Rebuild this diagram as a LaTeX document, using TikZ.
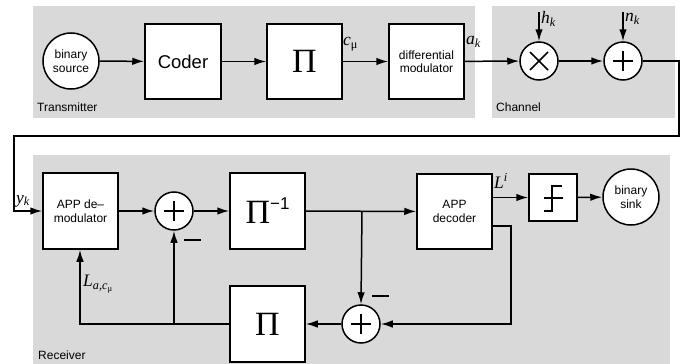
\documentclass[tikz,border=0pt]{standalone}
\usepackage{fontspec}
\setmainfont{Liberation Sans}
\newfontfamily\lsf{Liberation Serif}
\usetikzlibrary{arrows.meta}
\definecolor{panel}{HTML}{D9D9D9}
\newcommand{\vi}[1]{{\lsf\itshape #1}}
\newcommand{\bigP}{{\lsf\fontsize{34}{36}\selectfont Π}}
\tikzset{
  every node/.style={font=\fontsize{12}{13.5}\selectfont},
  blk/.style={draw, line width=1.5pt, fill=white, inner sep=0pt, align=center},
  circ/.style={draw, circle, line width=1.5pt, fill=white, inner sep=0pt, align=center},
  conn/.style={line width=1.5pt, -{Latex[length=12pt,width=7.5pt]}},
  lbl/.style={inner sep=1pt, font=\fontsize{17.5}{18}\selectfont},
  tlbl/.style={inner sep=1pt, font=\fontsize{12}{13}\selectfont}
}
\begin{document}
\begin{tikzpicture}[x=1pt,y=-1pt]
\useasboundingbox (0,0) rectangle (689,364);
% panels
\fill[panel] (33,6) rectangle (475,118);
\fill[panel] (492,6) rectangle (675,118);
\fill[panel] (33,155) rectangle (670,364);
\node[anchor=base west, tlbl] (ttx) at (36,111) {Transmitter};
\node[anchor=base west, tlbl] (tch) at (495,111) {Channel};
\node[anchor=base west, tlbl] (trx) at (37,359) {Receiver};
% transmitter
\node[circ, minimum size=56pt] (src) at (71,61) {binary\\source};
\node[blk, minimum width=76pt, minimum height=75pt, font=\fontsize{18.5}{20}\selectfont] (coder) at (183,61.5) {Coder};
\node[blk, minimum width=75pt, minimum height=75pt] (pi1) at (304.5,61.5) {\bigP};
\node[blk, minimum width=75pt, minimum height=75pt] (mod) at (426.5,61.5) {differential\\modulator};
% channel
\node[circ, minimum size=38pt] (mul) at (539,61) {};
\draw[line width=1.5pt] ([shift={(-9,-9)}]mul.center) -- ([shift={(9,9)}]mul.center)
      ([shift={(-9,9)}]mul.center) -- ([shift={(9,-9)}]mul.center);
\node[circ, minimum size=38pt] (add) at (623,61) {};
\draw[line width=1.5pt] ([xshift=-10pt]add.center) -- ([xshift=10pt]add.center)
      ([yshift=-10pt]add.center) -- ([yshift=10pt]add.center);
\coordinate (hin) at (539,12);
\coordinate (nin) at (623,12);
\draw[conn] (hin) -- (mul.north);
\draw[conn] (nin) -- (add.north);
\node[anchor=west, lbl] (hl) at (540,19) {\vi{h}\textsubscript{\vi{k}}};
\node[anchor=west, lbl] (nl) at (624,19) {\vi{n}\textsubscript{\vi{k}}};
% receiver
\node[blk, minimum width=75pt, minimum height=76pt] (demod) at (80.5,211) {APP de\textendash\\modulator};
\node[circ, minimum size=38pt] (sum1) at (174,211) {};
\draw[line width=1.5pt] ([xshift=-10pt]sum1.center) -- ([xshift=10pt]sum1.center)
      ([yshift=-10pt]sum1.center) -- ([yshift=10pt]sum1.center);
\node[blk, minimum width=75pt, minimum height=76pt] (pinv) at (267.5,211) {\raisebox{-3pt}{\bigP}\raisebox{11pt}{\fontsize{17}{17}\selectfont \textminus1}};
\node[blk, minimum width=75pt, minimum height=75pt] (dec) at (454.5,211.5) {APP\\decoder};
\node[blk, minimum width=48pt, minimum height=47pt] (hard) at (553,197.5) {};
\draw[line width=1.5pt] (544,198) -- (563,198) (544,211) -- (552,211) -- (552,186) -- (562,186);
\node[circ, minimum size=56pt] (sink) at (631,197) {binary\\sink};
\node[circ, minimum size=38pt] (sum2) at (361,324) {};
\draw[line width=1.5pt] ([xshift=-10pt]sum2.center) -- ([xshift=10pt]sum2.center)
      ([yshift=-10pt]sum2.center) -- ([yshift=10pt]sum2.center);
\node[blk, minimum width=75pt, minimum height=76pt] (pi2) at (267.5,324) {\bigP};
% transmitter connectors
\draw[conn] (src) -- (coder);
\draw[conn] (coder) -- (pi1);
\draw[conn] (pi1) -- (mod);
\node[anchor=west, lbl] (cl) at (342,44) {\vi{c}\textsubscript{\lsf μ}};
\draw[conn] (mod) -- (mul);
\node[anchor=west, lbl] (al) at (465,42) {\vi{a}\textsubscript{\vi{k}}};
\draw[conn] (mul) -- (add);
% feed to receiver
\coordinate (c1) at (679,61);
\coordinate (c2) at (679,136);
\coordinate (c3) at (14,136);
\coordinate (c4) at (14,211);
\draw[conn] (add.east) -- (c1) -- (c2) -- (c3) -- (c4) -- (demod.west);
\node[anchor=west, lbl] (yl) at (15,201) {\vi{y}\textsubscript{\vi{k}}};
% receiver connectors
\draw[conn] (demod) -- (sum1);
\draw[conn] (sum1) -- (pinv);
\draw[conn] (pinv) -- (dec);
\coordinate (j1) at (362,211);
\draw[conn] (j1) -- (sum2.north);
\draw[conn] (dec.east |- hard.west) -- (hard.west);
\node[anchor=west, lbl] (ll) at (493,181) {\vi{L}\textsuperscript{\vi{i}}};
\draw[conn] (hard) -- (sink);
\coordinate (d1) at (511,226);
\coordinate (d2) at (511,324);
\draw[conn] (dec.east |- d1) -- (d1) -- (d2) -- (sum2.east);
\draw[conn] (sum2) -- (pi2);
\coordinate (e1) at (80,324);
\coordinate (j2) at (174,324);
\draw[conn] (pi2.west) -- (e1) -- (demod.south -| e1);
\draw[conn] (j2) -- (sum1.south);
\node[anchor=west, lbl] (lal) at (82,284) {\vi{L}\textsubscript{\vi{a,c}\textsubscript{\lsf μ}}};
% minus signs
\draw[line width=1.5pt] (184,240) -- (201,240);
\draw[line width=1.5pt] (372,296) -- (389,296);
\end{tikzpicture}
\end{document}
